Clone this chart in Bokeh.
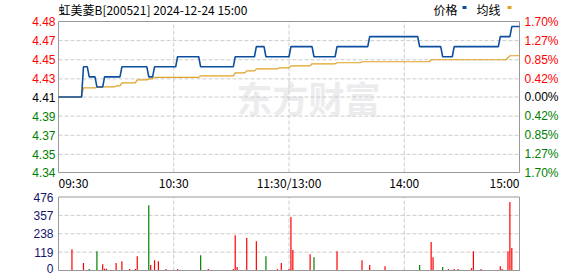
from bokeh.plotting import figure
from bokeh.models import Range1d
from bokeh.core.properties import value
from bokeh.embed import file_html
from bokeh.resources import INLINE

# ---------------------------------------------------------------- data
TITLE = "虹美菱B[200521] 2024-12-24 15:00"
PRE_CLOSE = 4.41
SESSION_MINUTES = 240          # 09:30-11:30 + 13:00-15:00

# last price: minute index where the price changes -> new price
price_change_min = [0, 13, 16, 20, 24, 33, 47, 50, 62, 74, 92, 103, 108,
                    121, 133, 145, 162, 188, 200, 206, 230, 236]
price_change_val = [4.41, 4.44, 4.43, 4.42, 4.43, 4.44, 4.43, 4.44, 4.45,
                    4.44, 4.45, 4.46, 4.45, 4.46, 4.45, 4.46, 4.47, 4.46,
                    4.45, 4.46, 4.47, 4.48]

# average price: minute index where it changes -> new value
avg_change_min = [0, 13, 20, 30, 33, 41, 47, 50, 74, 92, 98, 103, 115, 121,
                  132, 145, 158, 194, 234, 235]
avg_change_val = [4.41, 4.419, 4.420, 4.421, 4.424, 4.427, 4.428, 4.4295,
                  4.431, 4.434, 4.436, 4.438, 4.439, 4.441, 4.443, 4.444,
                  4.445, 4.447, 4.449, 4.451]

# volume per minute (lots)
vol_min = [7, 13, 16, 20, 23, 24, 25, 30, 33, 37, 40, 41, 47, 48, 50, 52, 56,
           62, 74, 78, 91, 92, 93, 98, 103, 108, 114, 116, 120, 121, 122, 131,
           133, 145, 158, 162, 170, 188, 194, 195, 200, 203, 206, 208, 215,
           216, 220, 230, 231, 234, 235, 236, 240]
vol_val = [138, 48, 9, 125, 41, 11, 11, 48, 60, 9, 9, 93, 423, 35, 67, 60, 9,
           9, 99, 9, 9, 229, 22, 210, 190, 93, 9, 48, 9, 346, 132, 106,
           86, 125, 67, 35, 28, 35, 184, 86, 22, 9, 9, 9, 15,
           125, 9, 28, 9, 125, 443, 145, 9]
vol_down_min = [16, 20, 47, 74, 108, 133, 188, 200]

# axis labels
price_ticks = [4.485, 4.466, 4.447, 4.428, 4.41, 4.391, 4.372, 4.353, 4.335]
price_labels = ["4.48", "4.47", "4.45", "4.43", "4.41", "4.39", "4.37", "4.35", "4.34"]
pct_labels = ["1.70%", "1.27%", "0.85%", "0.42%", "0.00%", "0.42%", "0.85%", "1.27%", "1.70%"]
vol_ticks = [476, 357, 238, 119, 0]
time_ticks = [0, 60, 120, 180, 240]
time_labels = ["09:30", "10:30", "11:30/13:00", "14:00", "15:00"]
grid_minutes = [60, 120, 180]

# ---------------------------------------------------------------- helpers
def step_series(change_min, change_val, n):
    out, j = [], 0
    for m in range(n + 1):
        while j + 1 < len(change_min) and change_min[j + 1] <= m:
            j += 1
        out.append(change_val[j])
    return out

minutes = list(range(SESSION_MINUTES + 1))
price = step_series(price_change_min, price_change_val, SESSION_MINUTES)
avg = step_series(avg_change_min, avg_change_val, SESSION_MINUTES)

BLUE = "#0d4f9f"
ORANGE = "#e0a224"
RED = "#ff0000"
GREEN = "#008000"
NAVY = "#14146e"
GRID = "#cccccc"
FRAME = "#999999"
CJK = "Noto Sans CJK SC"
LAT = "Liberation Sans"

W, H = 578, 276
# panel frames in canvas pixels
LEFT, RIGHT = 58, 519
MAIN_TOP, MAIN_BOT = 21, 172
VOL_TOP, VOL_BOT = 196.5, 270

P_HI, P_LO = price_ticks[0], price_ticks[-1]
PX_PER_MIN = (RIGHT - LEFT) / SESSION_MINUTES
PX_PER_PRICE = (MAIN_BOT - MAIN_TOP) / (P_HI - P_LO)
PX_PER_VOL = (VOL_BOT - VOL_TOP) / vol_ticks[0]

def xm(px):   # canvas x pixel -> minute coordinate
    return (px - LEFT) / PX_PER_MIN

def py(px):   # canvas y pixel -> price coordinate
    return P_HI - (px - MAIN_TOP) / PX_PER_PRICE

def vy(px):   # canvas y pixel -> volume coordinate
    return (VOL_BOT - px) / PX_PER_VOL

p = figure(width=W, height=H, output_backend="svg", toolbar_location=None,
           x_range=Range1d(xm(0), xm(W)), y_range=Range1d(py(H), py(0)),
           x_axis_location=None, y_axis_location=None,
           min_border_left=0, min_border_right=0,
           min_border_top=0, min_border_bottom=0)
p.extra_y_ranges = {"vol": Range1d(vy(H), vy(0))}
p.grid.visible = False
p.outline_line_color = None
p.background_fill_color = "white"
p.border_fill_color = "white"

# watermark
p.text(x=[xm(236)], y=[py(96)], text=["东方财富"], text_font=value(CJK),
       text_font_size=value("36px"), text_font_style="bold",
       text_color="#ececef", text_baseline="middle", text_align="left")

# ---- price panel grid + frame
inner = price_ticks[1:-1]
p.segment(x0=[0] * len(inner), x1=[SESSION_MINUTES] * len(inner), y0=inner, y1=inner,
          line_color=GRID, line_dash="4 2", line_width=1)
p.segment(x0=grid_minutes, x1=grid_minutes, y0=[P_LO] * 3, y1=[P_HI] * 3,
          line_color=GRID, line_dash="4 2", line_width=1)
p.quad(left=[0], right=[SESSION_MINUTES], bottom=[P_LO], top=[P_HI],
       fill_color=None, line_color=FRAME, line_width=1)

p.line(minutes, avg, line_color=ORANGE, line_width=1.2)
p.line(minutes, price, line_color=BLUE, line_width=1.6)

tick_colors = [RED if t > PRE_CLOSE + 1e-9 else (GREEN if t < PRE_CLOSE - 1e-9 else "black")
               for t in price_ticks]
p.text(x=[xm(LEFT - 3)] * len(price_ticks), y=price_ticks, text=price_labels,
       text_font=value(LAT), text_font_size=value("12px"), text_color=tick_colors,
       text_align="right", text_baseline="middle")
p.text(x=[xm(RIGHT + 5)] * len(price_ticks), y=price_ticks, text=pct_labels,
       text_font=value(LAT), text_font_size=value("12px"), text_color=tick_colors,
       text_align="left", text_baseline="middle")

aligns = ["left", "center", "center", "center", "right"]
for t, lab, al in zip(time_ticks, time_labels, aligns):
    p.text(x=[t], y=[py(182)], text=[lab], text_font=value(CJK),
           text_font_size=value("12px"), text_color="black",
           text_align=al, text_baseline="middle")

p.text(x=[0], y=[py(8.5)], text=[TITLE], text_font=value(CJK),
       text_font_size=value("12px"), text_color="black",
       text_align="left", text_baseline="middle")

# legend
p.text(x=[xm(433), xm(476)], y=[py(9), py(9)], text=["价格", "均线"],
       text_font=value(CJK), text_font_size=value("12px"), text_color="black",
       text_align="left", text_baseline="middle")
p.quad(left=[xm(462), xm(507)], right=[xm(466), xm(511)],
       top=[py(5.5)] * 2, bottom=[py(8.5)] * 2,
       fill_color=[BLUE, ORANGE], line_color=None)

# ---- volume panel
V_HI = vol_ticks[0]
vinner = vol_ticks[1:-1]
p.segment(x0=[0] * len(vinner), x1=[SESSION_MINUTES] * len(vinner), y0=vinner, y1=vinner,
          line_color=GRID, line_dash="4 2", line_width=1, y_range_name="vol")
p.segment(x0=grid_minutes, x1=grid_minutes, y0=[0] * 3, y1=[V_HI] * 3,
          line_color=GRID, line_dash="4 2", line_width=1, y_range_name="vol")

bar_colors = [GREEN if m in vol_down_min else RED for m in vol_min]
p.segment(x0=vol_min, y0=[0] * len(vol_min), x1=vol_min, y1=vol_val,
          line_color=bar_colors, line_width=1.2, y_range_name="vol")

p.quad(left=[0], right=[SESSION_MINUTES], bottom=[0], top=[V_HI],
       fill_color=None, line_color=FRAME, line_width=1, y_range_name="vol")

# volume tick labels; the bottom one is nudged up so it stays inside the canvas
vol_label_y = [t if t > 0 else vy(VOL_BOT - 2) for t in vol_ticks]
p.text(x=[xm(LEFT - 5)] * len(vol_ticks), y=vol_label_y, text=[str(t) for t in vol_ticks],
       text_font=value(LAT), text_font_size=value("12px"), text_color=NAVY,
       text_align="right", text_baseline="middle", y_range_name="vol")

open("out.html", "w").write(file_html(p, INLINE))
